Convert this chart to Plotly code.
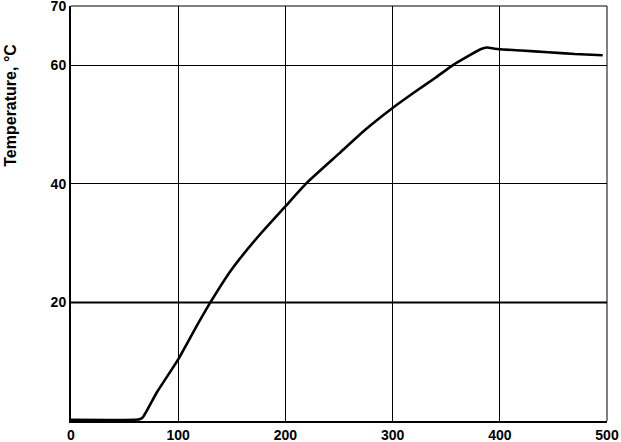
import plotly.graph_objects as go

time_s = [0, 60, 64, 67, 80, 100, 115, 130, 150, 175, 200, 219, 250, 275, 300, 320, 340, 356, 370, 382, 388, 395, 400, 420, 445, 470, 496]
temp_c = [0.2, 0.2, 0.3, 0.6, 4.8, 10.4, 15.3, 20.0, 25.6, 31.2, 36.2, 40.0, 45.1, 49.2, 52.8, 55.4, 57.9, 60.0, 61.5, 62.7, 63.0, 62.8, 62.7, 62.5, 62.2, 61.9, 61.7]

x_ticks = [0, 100, 200, 300, 400, 500]
y_ticks = [20, 40, 60, 70]
y_title = "Temperature, \u00b0C"

FONT = "Liberation Sans"

fig = go.Figure()
fig.add_trace(go.Scatter(x=time_s, y=temp_c, mode="lines",
                         line=dict(color="black", width=2.6, shape="spline", smoothing=0.5),
                         showlegend=False, hoverinfo="skip"))

# thicker 20 line
fig.add_shape(type="line", xref="paper", yref="y", x0=0, x1=1, y0=20, y1=20,
              line=dict(color="black", width=2), layer="below")

fig.update_layout(
    width=621, height=442,
    margin=dict(l=71, r=14, t=6, b=21),
    paper_bgcolor="white", plot_bgcolor="white",
    font=dict(family=FONT, size=14, color="black"),
    xaxis=dict(range=[0, 500], tickvals=x_ticks, ticktext=[f"<b>{v}</b>" for v in x_ticks],
               showgrid=True, gridcolor="black", gridwidth=1,
               showline=True, linecolor="black", linewidth=2, mirror=False,
               zeroline=False, ticks="", fixedrange=True, automargin=False,
               ticklabeloverflow="allow",
               tickfont=dict(family=FONT, size=14, color="black")),
    yaxis=dict(range=[0, 70], tickvals=y_ticks, ticktext=[f"<b>{v}</b>" for v in y_ticks],
               showgrid=True, gridcolor="black", gridwidth=1,
               showline=True, linecolor="black", linewidth=2,
               zeroline=False, ticks="", fixedrange=True, automargin=False,
               ticklabeloverflow="allow",
               tickfont=dict(family=FONT, size=14, color="black")),
    annotations=[dict(text=f"<b>{y_title}</b>", xref="paper", yref="paper",
                      x=-0.112, y=0.762, xanchor="center", yanchor="middle",
                      showarrow=False, textangle=-90,
                      font=dict(family=FONT, size=16, color="black"))],
)

# right and top borders (1px)
fig.add_shape(type="line", xref="paper", yref="paper", x0=1, x1=1, y0=0, y1=1,
              line=dict(color="black", width=1))
fig.add_shape(type="line", xref="paper", yref="paper", x0=0, x1=1, y0=1, y1=1,
              line=dict(color="black", width=1))

fig.write_html("out.html", config={"displayModeBar": False},
               post_script="document.body.style.margin='0';document.body.style.overflow='hidden';")
